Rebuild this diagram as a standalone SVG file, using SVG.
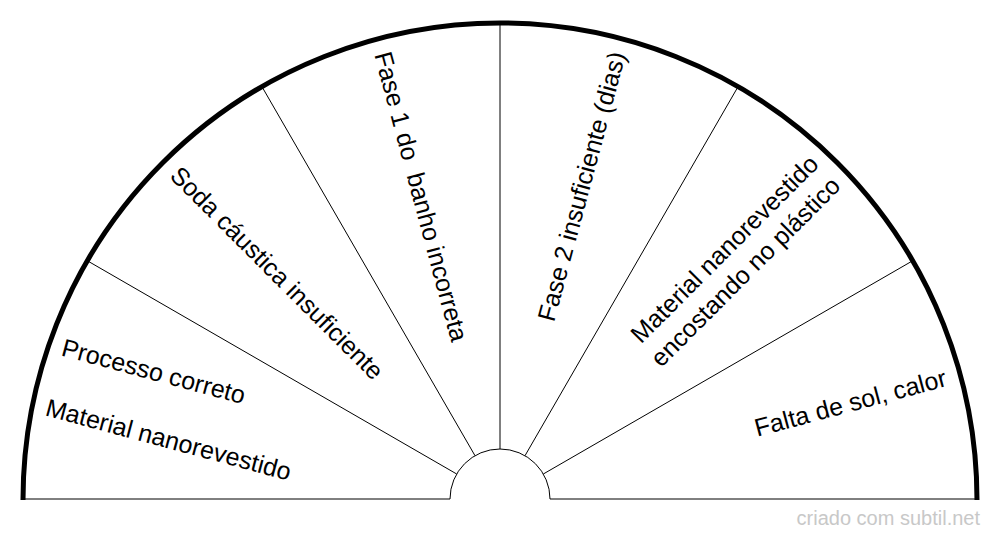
<svg xmlns="http://www.w3.org/2000/svg" width="1000" height="540" viewBox="0 0 1000 540">
<style>
  .lbl { font-family: "Liberation Sans", Arial, sans-serif; font-size: 25px; fill: #000; }
  .end { text-anchor: end; }
  .div { stroke: #000; stroke-width: 1; fill: none; }
  .wm { font-family: "Liberation Sans", Arial, sans-serif; font-size: 20px; fill: #c8c8c8; text-anchor: end; }
</style>
<rect width="1000" height="540" fill="#fff"/>
<g id="frame">
  <path d="M 23,500 A 477 477 0 0 1 977,500" fill="none" stroke="#000" stroke-width="5"/>
  <path d="M 450,499 A 50 50 0 0 1 550,499" class="div"/>
  <line x1="23" y1="499" x2="450" y2="499" class="div"/>
  <line x1="550" y1="499" x2="977" y2="499" class="div"/>
</g>
<g id="connectors">
  <line x1="456.7" y1="474" x2="86.9" y2="260.5" class="div"/>
  <line x1="475" y1="455.7" x2="261.5" y2="85.9" class="div"/>
  <line x1="500" y1="449" x2="500" y2="22" class="div"/>
  <line x1="525" y1="455.7" x2="738.5" y2="85.9" class="div"/>
  <line x1="543.3" y1="474" x2="913.1" y2="260.5" class="div"/>
</g>
<g id="sector1" transform="translate(500,499) rotate(15)">
  <text class="lbl" x="-462" y="-25">Processo correto</text>
  <text class="lbl" x="-462" y="37">Material nanorevestido</text>
</g>
<g id="sector2" transform="translate(500,499) rotate(45)">
  <text class="lbl" x="-462" y="6.5">Soda cáustica insuficiente</text>
</g>
<g id="sector3" transform="translate(500,499) rotate(75)">
  <text class="lbl" x="-462" y="6.5" style="white-space:pre" xml:space="preserve">Fase 1 do  banho incorreta</text>
</g>
<g id="sector4" transform="translate(500,499) rotate(-75)">
  <text class="lbl end" x="462" y="6.5">Fase 2 insuficiente (dias)</text>
</g>
<g id="sector5" transform="translate(500,499) rotate(-45)">
  <text class="lbl end" x="462" y="-9.5">Material nanorevestido</text>
  <text class="lbl end" x="462" y="21.5">encostando no plástico</text>
</g>
<g id="sector6" transform="translate(500,499) rotate(-15)">
  <text class="lbl end" x="462" y="6.5">Falta de sol, calor</text>
</g>
<text class="wm" x="980" y="525">criado com subtil.net</text>
</svg>
